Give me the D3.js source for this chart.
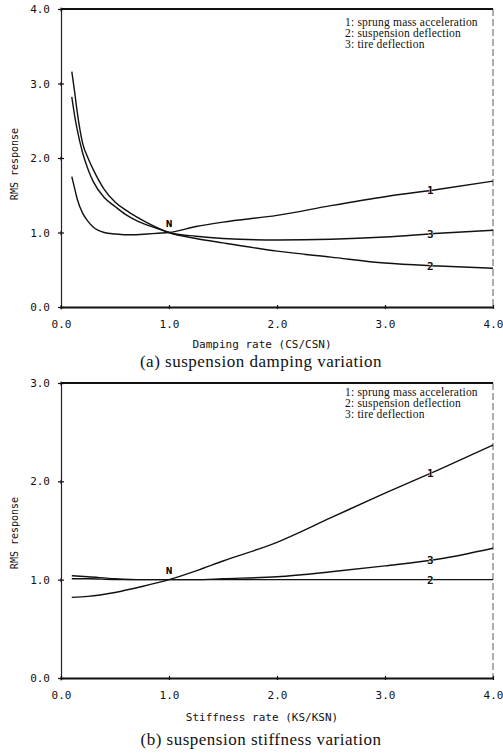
<!DOCTYPE html>
<html>
<head>
<meta charset="utf-8">
<script src="https://cdn.jsdelivr.net/npm/d3@7"></script>
<style>
  body { margin: 0; background: #fff; }
  svg { display: block; }
  .tick text { font-family: "DejaVu Sans Mono", monospace; font-size: 11px; fill: #111; }
</style>
</head>
<body>
<div id="chart"></div>
<script>
// damping variation (top)
const dampX = [0.1, 0.125, 0.15, 0.2, 0.25, 0.3, 0.4, 0.5, 0.6, 0.7, 0.8, 0.9, 1.0, 1.25, 1.5, 2.0, 2.5, 3.0, 3.5, 4.0];
const dampAccel = [1.75, 1.60, 1.45, 1.26, 1.15, 1.07, 1.00, 0.98, 0.97, 0.97, 0.98, 0.99, 1.0, 1.08, 1.14, 1.23, 1.36, 1.48, 1.58, 1.69];
const dampSusp = [3.16, 2.90, 2.62, 2.20, 2.00, 1.84, 1.58, 1.41, 1.30, 1.21, 1.13, 1.06, 1.0, 0.92, 0.86, 0.75, 0.67, 0.59, 0.55, 0.52];
const dampTire = [2.82, 2.58, 2.38, 2.07, 1.85, 1.68, 1.47, 1.35, 1.24, 1.16, 1.10, 1.05, 1.0, 0.95, 0.92, 0.90, 0.91, 0.94, 0.99, 1.03];

// stiffness variation (bottom)
const stiffX = [0.1, 0.25, 0.5, 0.75, 1.0, 1.25, 1.5, 2.0, 2.5, 3.0, 3.5, 4.0];
const stiffAccel = [0.82, 0.83, 0.87, 0.93, 1.0, 1.09, 1.19, 1.38, 1.63, 1.88, 2.12, 2.37];
const stiffSusp = [1.01, 1.01, 1.0, 1.0, 1.0, 1.0, 1.0, 1.0, 1.0, 1.0, 1.0, 1.0];
const stiffTire = [1.04, 1.03, 1.01, 1.0, 1.0, 1.0, 1.01, 1.03, 1.08, 1.14, 1.21, 1.32];

const xTicks = [0, 1, 2, 3, 4];
const legendLines = ["1:  sprung mass acceleration", "2:  suspension deflection", "3:  tire deflection"];
const curveTags = ["1", "2", "3"];
const tagX = 3.42;

const width = 503, height = 753;
const svg = d3.select("#chart").append("svg")
  .attr("width", width)
  .attr("height", height);

function drawPanel(opt) {
  const x = d3.scaleLinear().domain([0, 4]).range([61, 493]);
  const y = d3.scaleLinear().domain([0, opt.yMax]).range(opt.yRange);
  const g = svg.append("g");

  // frame
  g.append("line")
    .attr("x1", x(0)).attr("x2", x(4))
    .attr("y1", y(opt.yMax)).attr("y2", y(opt.yMax))
    .attr("stroke", "#111").attr("stroke-width", 2);
  g.append("line")
    .attr("x1", x(4)).attr("x2", x(4))
    .attr("y1", y(opt.yMax)).attr("y2", y(0))
    .attr("stroke", "#333").attr("stroke-width", 0.8)
    .attr("stroke-dasharray", "7,3");

  const yAxis = g.append("g")
    .attr("transform", `translate(${x(0)},0)`)
    .call(d3.axisLeft(y).tickValues(d3.range(0, opt.yMax + 1)).tickFormat(d3.format(".1f")).tickSize(0).tickPadding(11));
  yAxis.select(".domain").attr("stroke", "#222").attr("stroke-width", 1.2);
  yAxis.selectAll(".tick").append("line")
    .attr("x1", -3).attr("x2", 3).attr("stroke", "#111").attr("stroke-width", 1.2);
  yAxis.selectAll(".tick").append("line")
    .attr("y1", -2).attr("y2", 2).attr("stroke", "#111").attr("stroke-width", 1);

  const xAxis = g.append("g")
    .attr("transform", `translate(0,${y(0)})`)
    .call(d3.axisBottom(x).tickValues(xTicks).tickFormat(d3.format(".1f")).tickSize(0).tickPadding(13));
  xAxis.select(".domain").attr("stroke", "#111").attr("stroke-width", 2);
  xAxis.selectAll(".tick").append("line")
    .attr("y1", -2).attr("y2", 2).attr("stroke", "#111").attr("stroke-width", 1.2);

  // curves
  const line = d3.line()
    .x((d, i) => x(opt.xs[i]))
    .y(d => y(d))
    .curve(d3.curveMonotoneX);
  opt.series.forEach(s => {
    g.append("path")
      .attr("d", line(s))
      .attr("fill", "none")
      .attr("stroke", "#111")
      .attr("stroke-width", 1.4);
  });

  // curve tags
  opt.series.forEach((s, i) => {
    const v = d3.scaleLinear().domain(opt.xs).range(s)(tagX);
    g.append("text")
      .attr("x", x(tagX))
      .attr("y", y(v) + 4)
      .attr("text-anchor", "middle")
      .attr("font-family", "DejaVu Sans Mono, monospace")
      .attr("font-size", 11)
      .attr("font-weight", "bold")
      .attr("fill", "#111")
      .attr("stroke", "#fff").attr("stroke-width", 0.6).attr("paint-order", "stroke")
      .text(curveTags[i]);
  });

  // N marker
  g.append("text")
    .attr("x", x(1))
    .attr("y", y(1) - 6)
    .attr("text-anchor", "middle")
    .attr("font-family", "DejaVu Sans, sans-serif")
    .attr("font-size", 8)
    .attr("font-weight", "bold")
    .text("N");

  // legend
  g.append("g").selectAll("text")
    .data(legendLines)
    .join("text")
    .attr("x", 345)
    .attr("y", (d, i) => opt.legendY + i * 11)
    .attr("font-family", "Liberation Serif, serif")
    .attr("font-size", 11.5)
    .attr("letter-spacing", 0.2)
    .attr("fill", "#111")
    .text(d => d);

  // y title
  g.append("text")
    .attr("transform", `translate(18,${opt.yTitleY}) rotate(-90)`)
    .attr("text-anchor", "middle")
    .attr("font-family", "DejaVu Sans Mono, monospace")
    .attr("font-size", 10)
    .attr("fill", "#111")
    .text("RMS response");

  // x title
  g.append("text")
    .attr("x", 262)
    .attr("y", opt.xTitleY)
    .attr("text-anchor", "middle")
    .attr("font-family", "DejaVu Sans Mono, monospace")
    .attr("font-size", 11)
    .attr("fill", "#111")
    .text(opt.xTitle);

  // caption
  g.append("text")
    .attr("x", 261)
    .attr("y", opt.captionY)
    .attr("text-anchor", "middle")
    .attr("font-family", "Liberation Serif, serif")
    .attr("font-size", 17)
    .attr("letter-spacing", 0.5)
    .attr("fill", "#111")
    .text(opt.caption);
}

drawPanel({
  xs: dampX,
  series: [dampAccel, dampSusp, dampTire],
  yMax: 4,
  yRange: [307, 9],
  legendY: 26,
  yTitleY: 164,
  xTitleY: 348,
  xTitle: "Damping rate (CS/CSN)",
  captionY: 367,
  caption: "(a) suspension damping variation"
});

drawPanel({
  xs: stiffX,
  series: [stiffAccel, stiffSusp, stiffTire],
  yMax: 3,
  yRange: [678, 383],
  legendY: 396,
  yTitleY: 533,
  xTitleY: 721,
  xTitle: "Stiffness rate (KS/KSN)",
  captionY: 745,
  caption: "(b) suspension stiffness variation"
});
</script>
</body>
</html>
